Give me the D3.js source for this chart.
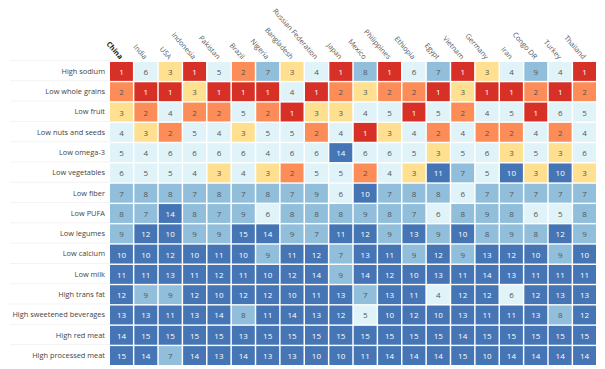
<!DOCTYPE html>
<html>
<head>
<meta charset="utf-8">
<script src="https://cdn.jsdelivr.net/npm/d3@7"></script>
<style>
  html, body { margin: 0; padding: 0; background: #fff; }
  svg { display: block; }
</style>
</head>
<body>
<svg id="chart" width="605" height="369"></svg>
<script>
const countries = ["China","India","USA","Indonesia","Pakistan","Brazil","Nigeria","Bangladesh","Russian Federation","Japan","Mexico","Philippines","Ethiopia","Egypt","Vietnam","Germany","Iran","Congo DR","Turkey","Thailand"];
const factors = ["High sodium","Low whole grains","Low fruit","Low nuts and seeds","Low omega-3","Low vegetables","Low fiber","Low PUFA","Low legumes","Low calcium","Low milk","High trans fat","High sweetened beverages","High red meat","High processed meat"];

const highSodium        = [1,6,3,1,5,2,7,3,4,1,8,1,6,7,1,3,4,9,4,1];
const lowWholeGrains    = [2,1,1,3,1,1,1,4,1,2,3,2,2,1,3,1,1,2,1,2];
const lowFruit          = [3,2,4,2,2,5,2,1,3,3,4,5,1,5,2,4,5,1,6,5];
const lowNutsSeeds      = [4,3,2,5,4,3,5,5,2,4,1,3,4,2,4,2,2,4,2,4];
const lowOmega3         = [5,4,6,6,6,6,4,6,6,14,6,6,5,3,5,6,3,5,3,6];
const lowVegetables     = [6,5,5,4,3,4,3,2,5,5,2,4,3,11,7,5,10,3,10,3];
const lowFiber          = [7,8,8,7,8,7,8,7,9,6,10,7,8,8,6,7,7,7,7,7];
const lowPUFA           = [8,7,14,8,7,9,6,8,8,8,9,8,7,6,8,9,8,6,5,8];
const lowLegumes        = [9,12,10,9,9,15,14,9,7,11,12,9,13,9,10,8,9,8,12,9];
const lowCalcium        = [10,10,12,10,11,10,9,11,12,7,13,11,9,12,9,13,12,10,9,10];
const lowMilk           = [11,11,13,11,12,11,10,12,14,9,14,12,10,13,11,14,13,11,11,11];
const highTransFat      = [12,9,9,12,10,12,12,10,11,13,7,13,11,4,12,12,6,12,13,13];
const highSweetBev      = [13,13,11,13,14,8,11,14,13,12,5,10,12,10,13,11,11,13,8,12];
const highRedMeat       = [14,15,15,15,15,13,15,15,15,15,15,15,15,15,14,15,15,15,15,15];
const highProcessedMeat = [15,14,7,14,13,14,13,13,10,10,11,14,14,14,15,10,14,14,14,14];

const rows = [highSodium, lowWholeGrains, lowFruit, lowNutsSeeds, lowOmega3, lowVegetables, lowFiber, lowPUFA, lowLegumes, lowCalcium, lowMilk, highTransFat, highSweetBev, highRedMeat, highProcessedMeat];

const rankBins   = [2, 3, 4, 7, 10];
const binColors  = ["#d73027","#fc8d59","#fee090","#e0f3f8","#91bfdb","#4575b4"];
const textColors = ["#ffffff","#555555","#555555","#555555","#555555","#ffffff"];

const cells = [];
rows.forEach((r, i) => r.forEach((v, j) => cells.push({factor: factors[i], country: countries[j], value: v})));

const svg = d3.select("#chart");
const mLeft = 110, mRight = 596, mTop = 62, mBottom = 365;

const x = d3.scaleBand().domain(countries).range([mLeft, mRight]).paddingInner(0.06);
const y = d3.scaleBand().domain(factors).range([mTop, mBottom]).paddingInner(0.07);
const color = d3.scaleThreshold().domain(rankBins).range(binColors);
const tcolor = d3.scaleThreshold().domain(rankBins).range(textColors);

const font = "'Open Sans', 'DejaVu Sans', sans-serif";

// faint row guide lines in the label area
svg.append("g").selectAll("line").data(factors).join("line")
  .attr("x1", 10).attr("x2", mLeft)
  .attr("y1", d => y(d) - 1.5).attr("y2", d => y(d) - 1.5)
  .attr("stroke", "#f3f3f3").attr("stroke-width", 1);

svg.append("g").selectAll("rect").data(cells).join("rect")
  .attr("x", d => x(d.country))
  .attr("y", d => y(d.factor))
  .attr("width", x.bandwidth())
  .attr("height", y.bandwidth())
  .attr("fill", d => color(d.value));

svg.append("g").selectAll("text").data(cells).join("text")
  .attr("x", d => x(d.country) + x.bandwidth() / 2)
  .attr("y", d => y(d.factor) + y.bandwidth() / 2)
  .attr("text-anchor", "middle")
  .attr("dominant-baseline", "central")
  .attr("font-family", font)
  .attr("font-size", "8px")
  .attr("fill", d => tcolor(d.value))
  .text(d => d.value);

// Row axis
const yAxis = d3.axisLeft(y).tickSize(0).tickPadding(4);
const gy = svg.append("g").attr("transform", `translate(${mLeft - 1},0)`).call(yAxis);
gy.select(".domain").remove();
gy.selectAll("text").attr("font-family", font).attr("font-size", "7.4px").attr("fill", "#444");

// Column axis
const xAxis = d3.axisTop(x).tickSize(0).tickPadding(0);
const gx = svg.append("g").attr("transform", `translate(0,${mTop - 4})`).call(xAxis);
gx.select(".domain").remove();
gx.selectAll("text")
  .attr("font-family", font)
  .attr("font-size", "7.2px")
  .attr("fill", "#555")
  .attr("text-anchor", "end")
  .attr("dy", "0.35em")
  .attr("transform", "rotate(49)")
  .attr("x", 0).attr("y", 0);
gx.selectAll(".tick").filter(d => d === "China").select("text")
  .attr("font-weight", "bold").attr("fill", "#222");
</script>
</body>
</html>
